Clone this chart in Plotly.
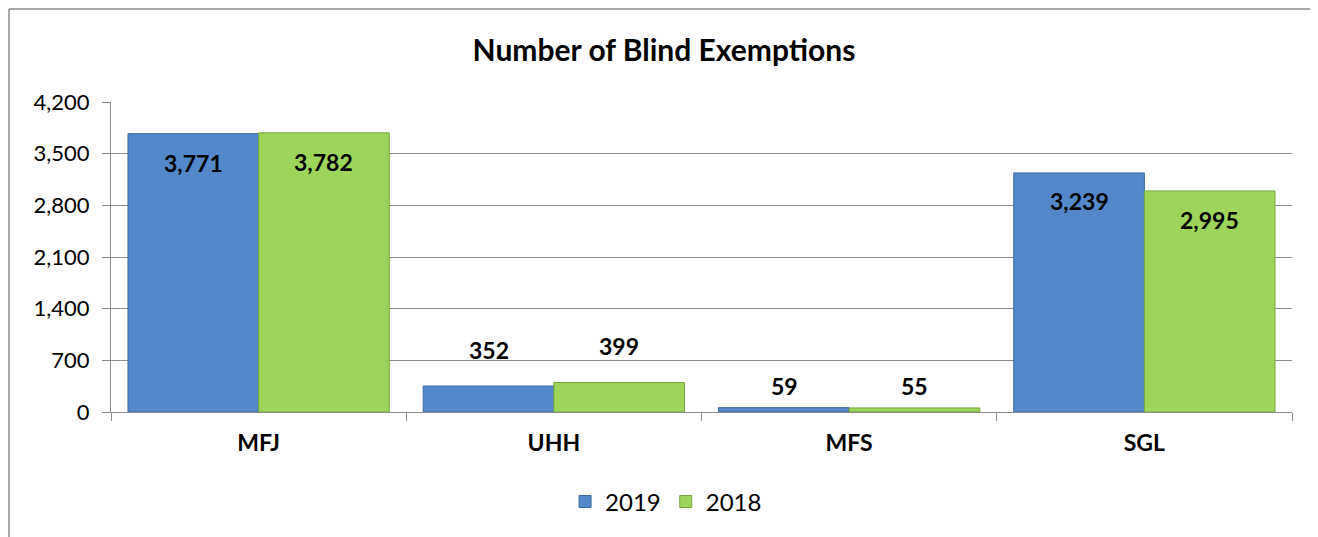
import plotly.graph_objects as go

categories = ["MFJ", "UHH", "MFS", "SGL"]
series_names = ["2019", "2018"]
values_2019 = [3771, 352, 59, 3239]
values_2018 = [3782, 399, 55, 2995]
y_ticks = [0, 700, 1400, 2100, 2800, 3500, 4200]

FONT = "Lato"
colors = ["#5388CA", "#9DD55A"]
edges = ["#3D6A9E", "#74A63D"]

fig = go.Figure()
for name, vals, c, e in zip(series_names, [values_2019, values_2018], colors, edges):
    fig.add_trace(go.Bar(
        name=name, x=categories, y=vals,
        marker=dict(color=c, line=dict(color=e, width=1)),
    ))

# data labels
label_shift_2019 = [-29, 36, 22, -28]
label_shift_2018 = [-29, 37, 22, -29]
group_px = 130
for vals, shifts, xs in [(values_2019, label_shift_2019, -group_px / 2),
                         (values_2018, label_shift_2018, group_px / 2)]:
    for cat, v, s in zip(categories, vals, shifts):
        fig.add_annotation(
            x=cat, y=v, text=f"<b>{v:,}</b>", showarrow=False,
            xshift=xs, yshift=s, yanchor="middle",
            font=dict(family=FONT, size=23, color="black"),
        )

W, H = 1310, 529
fig.update_layout(
    width=W, height=H,
    margin=dict(l=103, r=26, t=94, b=125),
    paper_bgcolor="white", plot_bgcolor="white",
    barmode="group", bargap=0.115, bargroupgap=0,
    title=dict(text="<b>Number of Blind Exemptions</b>", x=656 / W, xanchor="center",
               y=1 - 42 / H, yanchor="middle", yref="container",
               font=dict(family=FONT, size=30, color="black")),
    legend=dict(orientation="h", x=0.47, xanchor="center", y=-0.29, yanchor="middle",
                font=dict(family=FONT, size=24, color="black"),
                itemwidth=30, tracegroupgap=0),
    showlegend=True,
)
fig.update_yaxes(
    range=[0, 4200], tickvals=y_ticks, ticktext=[f"{t:,}" for t in y_ticks],
    showgrid=True, gridcolor="#8C8C8C", gridwidth=1,
    ticks="outside", ticklen=8, tickcolor="#8C8C8C",
    showline=True, linecolor="#8C8C8C", linewidth=1,
    tickfont=dict(family=FONT, size=22, color="black"),
    zeroline=False, ticklabelstandoff=8,
)
fig.update_xaxes(
    tickvals=categories, ticktext=[f"<b>{c}</b>" for c in categories],
    ticks="outside", ticklen=8, tickcolor="#8C8C8C", tickson="boundaries",
    showline=True, linecolor="#8C8C8C", linewidth=1,
    tickfont=dict(family=FONT, size=23, color="black"),
    ticklabelstandoff=10,
)
# chart border (top and left edges only are visible)
bx0 = (1 - 103) / 1181
by1 = (404 - 1) / 310
fig.add_shape(type="line", xref="paper", yref="paper",
              x0=bx0, x1=1.2, y0=by1, y1=by1,
              line=dict(color="#8C8C8C", width=1.5), layer="below")
fig.add_shape(type="line", xref="paper", yref="paper",
              x0=bx0, x1=bx0, y0=-0.6, y1=by1,
              line=dict(color="#8C8C8C", width=1.5), layer="below")

fig.write_html("out.html")
